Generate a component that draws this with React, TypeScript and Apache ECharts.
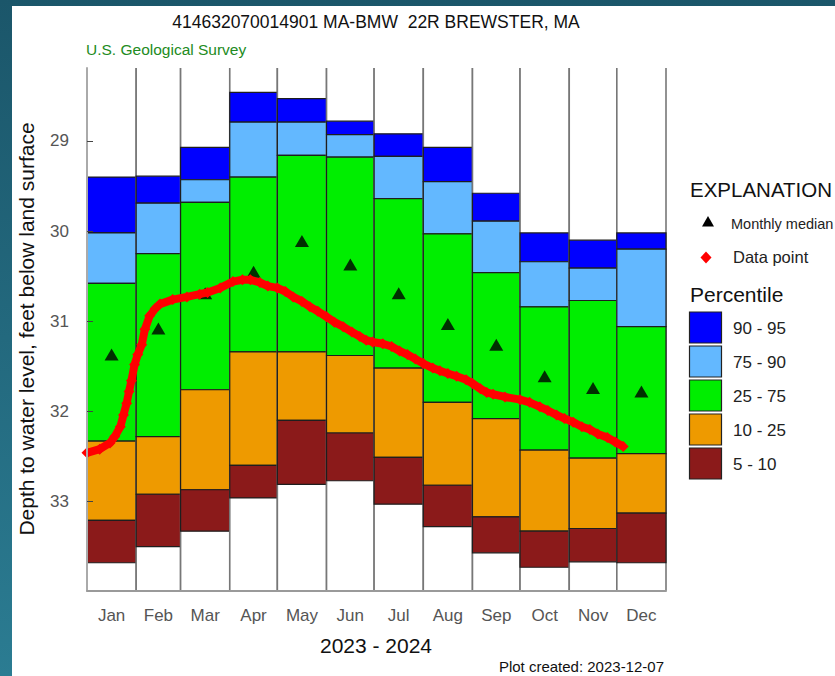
import React, { useEffect, useRef } from 'react';
import * as echarts from 'echarts';

const MONTHS = ['Jan', 'Feb', 'Mar', 'Apr', 'May', 'Jun', 'Jul', 'Aug', 'Sep', 'Oct', 'Nov', 'Dec'];
const MONTH_DAYS = [31, 28, 31, 30, 31, 30, 31, 31, 30, 31, 30, 31];

// Percentile boundaries (depth to water, ft below land surface)
const P95 = [29.40, 29.39, 29.07, 28.46, 28.53, 28.78, 28.92, 29.07, 29.58, 30.02, 30.10, 30.02];
const P90 = [30.02, 29.69, 29.43, 28.79, 28.79, 28.93, 29.17, 29.45, 29.89, 30.34, 30.41, 30.20];
const P75 = [30.58, 30.25, 29.68, 29.40, 29.16, 29.18, 29.64, 30.03, 30.46, 30.84, 30.77, 31.06];
const P25 = [32.33, 32.28, 31.76, 31.34, 31.34, 31.38, 31.52, 31.90, 32.08, 32.43, 32.52, 32.47];
const P10 = [33.21, 32.92, 32.87, 32.60, 32.10, 32.24, 32.51, 32.82, 33.17, 33.33, 33.30, 33.13];
const P5 = [33.68, 33.50, 33.33, 32.96, 32.81, 32.77, 33.03, 33.28, 33.57, 33.73, 33.67, 33.68];
const MEDIAN = [31.37, 31.08, 30.69, 30.45, 30.11, 30.37, 30.69, 31.03, 31.26, 31.61, 31.74, 31.78];

// Observed data points (day of year, depth)
const DATA_DAYS = [0, 8, 14.5, 17.5, 21, 23, 25, 26.5, 28, 30, 32, 34.5, 36.5, 39.5, 43, 46, 54, 63, 71, 76,
  84, 92, 98, 103, 109, 114, 120, 125, 130, 135.5, 140.5, 145.5, 151, 156, 161.5, 167, 172, 176, 180, 186.5,
  192, 197, 202, 207, 212, 218, 222.5, 227.5, 233, 239, 243, 248, 252, 256, 263.5, 273, 279, 285.5, 290.5, 296,
  301, 306.5, 312, 317, 322, 328, 333, 338];
const DATA_VALUES = [32.46, 32.42, 32.35, 32.28, 32.17, 32.04, 31.91, 31.78, 31.66, 31.48, 31.37, 31.26, 31.09, 30.94, 30.86, 30.81, 30.76, 30.73, 30.70, 30.68,
  30.63, 30.56, 30.54, 30.54, 30.57, 30.61, 30.63, 30.67, 30.73, 30.78, 30.84, 30.89, 30.95, 31.01, 31.06, 31.12, 31.17, 31.21, 31.23, 31.25,
  31.28, 31.33, 31.37, 31.42, 31.47, 31.52, 31.55, 31.58, 31.61, 31.65, 31.69, 31.75, 31.79, 31.81, 31.84, 31.87, 31.90, 31.95, 31.99, 32.04,
  32.08, 32.12, 32.17, 32.20, 32.25, 32.29, 32.34, 32.39];

const Y_TICKS = [29, 30, 31, 32, 33];
const Y_MIN = 28.19;
const Y_MAX = 33.99;

const BAND_LABELS = ['90 - 95', '75 - 90', '25 - 75', '10 - 25', '5 - 10'];
const BAND_COLORS = ['#0000ff', '#63b8ff', '#00ee00', '#ee9a00', '#8b1a1a'];

const FONT = '"Liberation Sans", Arial, Helvetica, sans-serif';

const MONTH_START: number[] = [];
MONTH_DAYS.reduce((acc, d) => { MONTH_START.push(acc); return acc + d; }, 0);
const MONTH_MID = MONTH_START.map((s, i) => s + MONTH_DAYS[i] / 2);

export default function App() {
  const ref = useRef<HTMLDivElement>(null);
  useEffect(() => {
    const chart = echarts.init(ref.current!, null, { renderer: 'svg' });

    const colData = MONTHS.map((_, i) => [
      MONTH_START[i], MONTH_START[i] + MONTH_DAYS[i], P95[i], P90[i], P75[i], P25[i], P10[i], P5[i],
    ]);

    const txt = (text: string, x: number, y: number, size: number, fill: string, align = 'left', extra: any = {}) => ({
      type: 'text',
      x, y,
      ...extra,
      style: {
        text, x: 0, y: 0, fill, fontSize: size, fontFamily: FONT,
        align, verticalAlign: 'middle', textAlign: align, textVerticalAlign: 'middle',
      },
    });

    const legendBoxes: any[] = [];
    BAND_LABELS.forEach((lab, i) => {
      const top = 312 + i * 34;
      legendBoxes.push({
        type: 'rect',
        shape: { x: 689.5, y: top, width: 32, height: 31 },
        style: { fill: BAND_COLORS[i], stroke: '#222', lineWidth: 1.2 },
      });
      legendBoxes.push(txt(lab, 733, top + 16, 17, '#222'));
    });

    const option: any = {
      animation: false,
      backgroundColor: {
        type: 'linear', x: 0, y: 0, x2: 0, y2: 1,
        colorStops: [{ offset: 0, color: '#1b566a' }, { offset: 1, color: '#2b7c92' }],
      },
      textStyle: { fontFamily: FONT },
      grid: { left: 87, top: 68, width: 579, height: 522.7 },
      xAxis: {
        type: 'value', min: 0, max: 365,
        axisLine: { show: true, lineStyle: { color: '#9a9a9a', width: 2 } },
        axisTick: { show: false },
        splitLine: { show: false },
        axisLabel: {
          customValues: MONTH_MID,
          formatter: (v: number) => {
            const i = MONTH_MID.findIndex((m) => Math.abs(m - v) < 0.01);
            return i >= 0 ? MONTHS[i] : '';
          },
          color: '#555', fontSize: 17, margin: 25, verticalAlign: 'middle', fontFamily: FONT,
        },
        z: 10,
      },
      yAxis: {
        type: 'value', inverse: true, min: Y_MIN, max: Y_MAX,
        axisLine: { show: true, lineStyle: { color: '#aaaaaa', width: 2 } },
        axisTick: { show: true, inside: true, length: 6, customValues: Y_TICKS, lineStyle: { color: '#444', width: 1 } },
        axisLabel: { customValues: Y_TICKS, color: '#555', fontSize: 17, margin: 18, fontFamily: FONT },
        splitLine: { show: false },
        z: 10,
      },
      series: [
        {
          type: 'custom',
          name: 'Percentile',
          z: 2,
          data: colData,
          renderItem: (params: any, api: any) => {
            const s = api.value(0);
            const e = api.value(1);
            const cs = params.coordSys;
            const x0 = api.coord([s, Y_MIN])[0];
            const x1 = api.coord([e, Y_MIN])[0];
            const yTop = cs.y;
            const yBot = cs.y + cs.height;
            const lv = [2, 3, 4, 5, 6, 7].map((k) => api.coord([s, api.value(k)])[1]);
            const children: any[] = [
              { type: 'rect', shape: { x: x0, y: yTop, width: x1 - x0, height: yBot - yTop }, style: { fill: '#fff' } },
              { type: 'line', shape: { x1: x0, y1: yTop, x2: x0, y2: yBot }, style: { stroke: '#777', lineWidth: 1.6 } },
              { type: 'line', shape: { x1: x1, y1: yTop, x2: x1, y2: yBot }, style: { stroke: '#777', lineWidth: 1.6 } },
            ];
            for (let b = 0; b < 5; b++) {
              children.push({
                type: 'rect',
                shape: { x: x0, y: lv[b], width: x1 - x0, height: lv[b + 1] - lv[b] },
                style: { fill: BAND_COLORS[b], stroke: '#1e1e1e', lineWidth: 1.2 },
              });
            }
            return { type: 'group', children };
          },
        },
        {
          type: 'scatter',
          name: 'Monthly median',
          z: 3,
          symbol: 'triangle',
          symbolSize: [14, 12],
          itemStyle: { color: '#000' },
          data: MONTH_MID.map((m, i) => [m, MEDIAN[i]]),
        },
        {
          type: 'line',
          name: 'Data point',
          z: 4,
          data: DATA_DAYS.map((d, i) => [d, DATA_VALUES[i]]),
          lineStyle: { color: '#ff0000', width: 8 },
          itemStyle: { color: '#ff0000' },
          symbol: 'diamond',
          symbolSize: 11,
          showSymbol: true,
          showAllSymbol: true,
        },
      ],
      graphic: {
        elements: [
          { type: 'rect', z: -10, shape: { x: 12, y: 6, width: 823, height: 670 }, style: { fill: '#ffffff' } },
          txt('414632070014901 MA-BMW  22R BREWSTER, MA', 376, 22, 17.5, '#111', 'center'),
          txt('U.S. Geological Survey', 86, 49.5, 15.5, '#228b22'),
          txt('Depth to water level, feet below land surface', 26, 329, 21, '#111', 'center', { rotation: Math.PI / 2 }),
          txt('2023 - 2024', 376, 645.5, 21, '#111', 'center'),
          txt('Plot created: 2023-12-07', 664, 666.5, 15, '#111', 'right'),
          txt('EXPLANATION', 690, 189, 20.5, '#111'),
          { type: 'polygon', shape: { points: [[702, 226.5], [714, 226.5], [708, 216]] }, style: { fill: '#000' } },
          txt('Monthly median', 731, 224, 14.5, '#222'),
          { type: 'polygon', shape: { points: [[706, 251.5], [711.5, 257.5], [706, 263.5], [700.5, 257.5]] }, style: { fill: '#ff0000' } },
          txt('Data point', 733, 257, 16.5, '#222'),
          txt('Percentile', 690, 294, 21, '#111'),
          ...legendBoxes,
        ],
      },
    };

    chart.setOption(option);
    return () => chart.dispose();
  }, []);

  return <div ref={ref} style={{ position: 'absolute', left: 0, top: 0, width: 835, height: 676 }} />;
}
